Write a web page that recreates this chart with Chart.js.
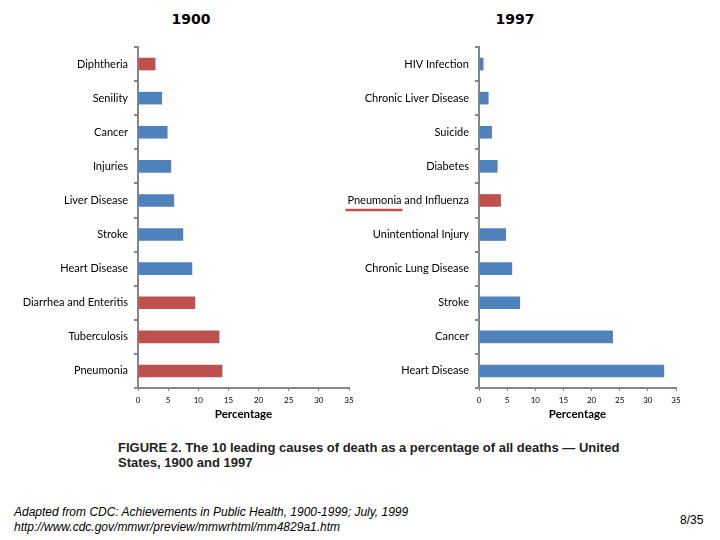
<!DOCTYPE html>
<html>
<head>
<meta charset="utf-8">
<script src="https://cdn.jsdelivr.net/npm/chart.js@4.4.1/dist/chart.umd.min.js"></script>
<style>
  html, body { margin: 0; padding: 0; background: #fff; }
  body { width: 720px; height: 540px; position: relative; overflow: hidden; font-family: "Liberation Sans", Arial, sans-serif; }
  .cw { position: absolute; }
  .ttl { position: absolute; font-family: "DejaVu Sans", sans-serif; font-weight: bold; font-size: 14px; color: #000; transform: translateX(-50%); }
  #caption { position: absolute; left: 118px; top: 440px; width: 540px; font-family: "Liberation Sans", Arial, sans-serif; font-weight: bold; font-size: 13px; line-height: 15px; color: #222; }
  #footer { position: absolute; left: 14px; top: 505px; font-family: "Liberation Sans", Arial, sans-serif; font-style: italic; font-size: 12px; line-height: 15px; color: #000; }
  #page { position: absolute; left: 680px; top: 513px; font-family: "Liberation Sans", Arial, sans-serif; font-size: 12px; color: #000; }
</style>
</head>
<body>
<div class="ttl" style="left:191px; top:11px;">1900</div>
<div class="ttl" style="left:515px; top:11px;">1997</div>
<div class="cw" style="left:0px; top:0px; width:360px; height:430px;"><canvas id="c1" width="360" height="430"></canvas></div>
<div class="cw" style="left:340px; top:0px; width:380px; height:430px;"><canvas id="c2" width="380" height="430"></canvas></div>
<div id="caption">FIGURE 2. The 10 leading causes of death as a percentage of all deaths — United States, 1900 and 1997</div>
<div id="footer">Adapted from CDC: Achievements in Public Health, 1900-1999; July, 1999<br>http://www.cdc.gov/mmwr/preview/mmwrhtml/mm4829a1.htm</div>
<div id="page">8/35</div>
<script>
// ---- Data ----
const causes1900 = ["Diphtheria", "Senility", "Cancer", "Injuries", "Liver Disease", "Stroke", "Heart Disease", "Diarrhea and Enteritis", "Tuberculosis", "Pneumonia"];
const pct1900 = [2.9, 4.0, 4.9, 5.5, 6.0, 7.5, 9.0, 9.5, 13.5, 14.0];
const infectious1900 = [true, false, false, false, false, false, false, true, true, true];

const causes1997 = ["HIV Infection", "Chronic Liver Disease", "Suicide", "Diabetes", "Pneumonia and Influenza", "Unintentional Injury", "Chronic Lung Disease", "Stroke", "Cancer", "Heart Disease"];
const pct1997 = [0.8, 1.7, 2.3, 3.3, 3.9, 4.8, 5.9, 7.3, 23.8, 32.9];
const infectious1997 = [false, false, false, false, true, false, false, false, false, false];

const xTicks = [0, 5, 10, 15, 20, 25, 30, 35];
const underlined1997 = ["Pneumonia and Influenza"];

// ---- Styles ----
const BLUE = "#4F81BD", RED = "#C0504D", AXIS = "#868686";
const LABEL_FONT = { family: "Lato, 'Open Sans', sans-serif", size: 11 };

function underlinePlugin(labels) {
  return {
    id: "underline",
    afterDraw(chart) {
      const y = chart.scales.y, ctx = chart.ctx;
      labels.forEach(lbl => {
        const idx = chart.data.labels.indexOf(lbl);
        if (idx < 0) return;
        const py = y.getPixelForValue(idx);
        ctx.save();
        ctx.font = "11px Lato, 'Open Sans', sans-serif";
        const w = ctx.measureText(lbl).width;
        const right = chart.chartArea.left - 10;
        const left = right - w - 2;
        ctx.strokeStyle = RED;
        ctx.lineWidth = 2.5;
        ctx.beginPath();
        ctx.moveTo(left, py + 9.5);
        ctx.lineTo(left + 57, py + 9.5);
        ctx.stroke();
        ctx.restore();
      });
    }
  };
}

function makeChart(id, labels, values, flags, yWidth, padRight, plugins) {
  return new Chart(document.getElementById(id), {
    type: "bar",
    data: {
      labels: labels,
      datasets: [{
        data: values,
        backgroundColor: flags.map(f => f ? RED : BLUE),
        borderWidth: 0,
        barPercentage: 0.37,
        categoryPercentage: 1.0
      }]
    },
    options: {
      indexAxis: "y",
      responsive: false,
      animation: false,
      devicePixelRatio: 1,
      layout: { padding: { top: 47, right: padRight, left: 0, bottom: 0 } },
      plugins: { legend: { display: false }, tooltip: { enabled: false }, title: { display: false } },
      scales: {
        y: {
          afterFit(s) { s.width = yWidth; },
          border: { color: AXIS, width: 2 },
          grid: { display: true, drawOnChartArea: false, drawTicks: true, tickLength: 4, color: AXIS, lineWidth: 2, offset: true },
          ticks: { color: "#000", font: LABEL_FONT, padding: 6, autoSkip: false }
        },
        x: {
          min: 0, max: 35,
          afterFit(s) { s.height = 42; },
          afterBuildTicks(s) { s.ticks = xTicks.map(v => ({ value: v })); },
          border: { color: AXIS, width: 2 },
          grid: { display: true, drawOnChartArea: false, drawTicks: true, tickLength: 3, color: AXIS, lineWidth: 1 },
          ticks: { color: "#000", font: { family: "Lato, 'Open Sans', sans-serif", size: 8 }, padding: 5, maxRotation: 0 },
          title: { display: true, text: "Percentage", color: "#000", font: { family: "Lato, 'Open Sans', sans-serif", size: 11.5, weight: "bold" }, padding: { top: 0, bottom: 9 } }
        }
      }
    },
    plugins: plugins || []
  });
}

makeChart("c1", causes1900, pct1900, infectious1900, 138, 11);
makeChart("c2", causes1997, pct1997, infectious1997, 139, 44, [underlinePlugin(underlined1997)]);
</script>
</body>
</html>
